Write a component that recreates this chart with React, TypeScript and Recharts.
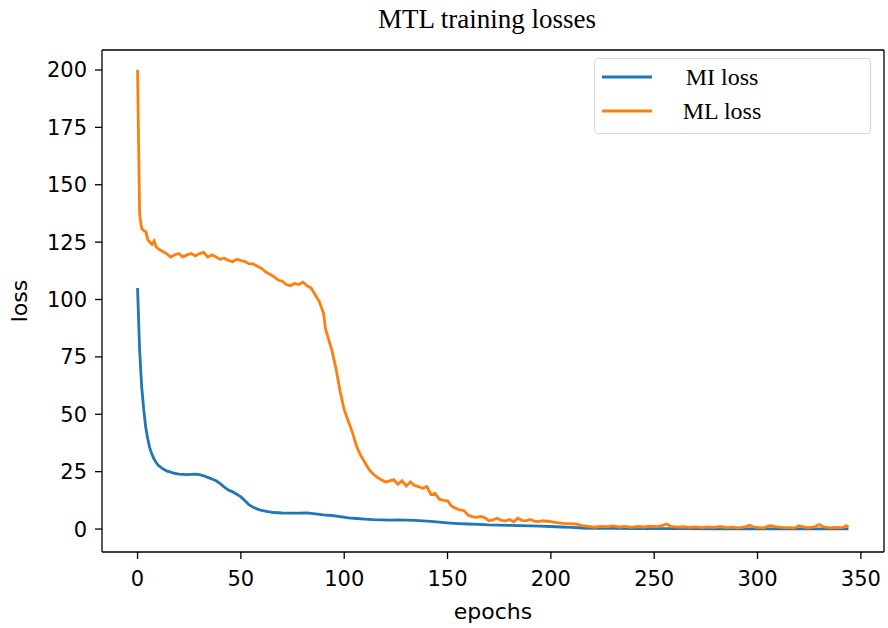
import React from "react";
import { LineChart, Line, XAxis, YAxis, Legend, Label, ReferenceLine } from "recharts";

const mlEpochs = [
  0, 1, 2, 3, 4, 5, 6, 7, 8, 9, 10, 12, 14, 16, 18, 20, 22, 24, 26, 28, 30, 32, 34, 36, 38, 40,
  42, 44, 46, 48, 50, 52, 54, 56, 58, 60, 62, 64, 66, 68, 70, 72, 74, 76, 78, 80, 82, 84, 86, 88,
  90, 91, 92, 94, 96, 98, 100, 102, 104, 106, 108, 110, 112, 114, 116, 118, 120, 122, 124, 126,
  128, 130, 132, 134, 136, 138, 140, 142, 144, 146, 148, 150, 152, 154, 156, 158, 160, 162, 164,
  166, 168, 170, 172, 174, 176, 178, 180, 182, 184, 186, 188, 190, 192, 194, 196, 198, 200, 203,
  206, 209, 212, 215, 218, 221, 224, 227, 230, 233, 236, 239, 242, 245, 248, 251, 254, 256, 258,
  261, 264, 267, 270, 273, 276, 279, 282, 285, 288, 291, 294, 296, 299, 303, 306, 309, 312, 315,
  318, 320, 324, 327, 330, 332, 335, 338, 341, 343, 344,
];
const mlLoss = [
  200, 137, 131, 130, 129.5, 126, 125, 124, 125.5, 123, 122, 121, 120, 118.5, 119.5, 120, 118.5,
  119.5, 120, 119, 120, 120.5, 118.5, 119.5, 118.5, 117.5, 118, 117, 116.5, 117.5, 117, 116.5,
  115.5, 115.5, 114.5, 113.5, 112, 111, 110, 108.5, 108, 106.5, 106, 107, 106.5, 107.5, 106, 105,
  102, 99, 94, 87, 84, 78, 70, 60, 52, 47, 42, 36, 32, 29, 26, 24, 22.5, 21.5, 20.5, 21, 21.5, 19.5,
  21, 18.8, 20.5, 19, 18.5, 17.7, 18.5, 15, 15.5, 13, 12.5, 12.3, 10, 9, 8.3, 8, 6, 5.4, 5.1, 5.5,
  5, 3.6, 4, 4.7, 3.8, 3.6, 4.2, 3.2, 4.7, 3.8, 3.6, 4.2, 3.4, 3.2, 3.6, 3.4, 3.2, 2.8, 2.5, 2.4,
  2.2, 1.5, 1.2, 0.8, 1.2, 1, 1.4, 0.9, 1.2, 0.7, 1.1, 0.9, 1.3, 1.0, 1.6, 2.2, 1.2, 0.8, 1.0, 0.7,
  0.9, 0.6, 0.9, 0.7, 1.1, 0.6, 0.8, 0.5, 0.9, 1.7, 0.7, 0.5, 1.5, 0.9, 0.7, 0.6, 0.5, 1.4, 0.6,
  0.8, 2.0, 0.9, 0.5, 0.7, 0.6, 1.5, 0.8,
];

const miEpochs = [
  0, 1, 2, 3, 4, 5, 6, 7, 8, 9, 10, 12, 14, 16, 18, 20, 22, 24, 26, 28, 30, 32, 34, 36, 38, 40, 42,
  44, 46, 48, 50, 52, 54, 56, 58, 60, 63, 66, 70, 74, 78, 82, 86, 90, 94, 98, 102, 106, 110, 114,
  118, 122, 126, 130, 134, 138, 142, 146, 150, 155, 160, 165, 170, 175, 180, 185, 190, 195, 200,
  205, 210, 215, 220, 230, 240, 260, 280, 300, 320, 344,
];
const miLoss = [
  105, 78, 62, 52, 44, 39, 35, 32.5, 30.5, 29, 27.8, 26.4, 25.3, 24.8, 24.2, 23.9, 23.8, 23.7, 23.8,
  23.9, 23.7, 23.2, 22.5, 21.8, 21, 19.8, 18.3, 17, 16.2, 15.2, 14, 12.3, 10.5, 9.5, 8.7, 8.1, 7.6,
  7.2, 7, 6.9, 6.9, 7, 6.6, 6.2, 5.9, 5.4, 4.9, 4.6, 4.3, 4.1, 4, 3.9, 4, 3.9, 3.8, 3.6, 3.3, 3,
  2.7, 2.4, 2.2, 2.0, 1.8, 1.7, 1.6, 1.5, 1.4, 1.3, 1.1, 0.9, 0.7, 0.45, 0.3, 0.25, 0.2, 0.15,
  0.12, 0.1, 0.1, 0.08,
];

const xTicks = [0, 50, 100, 150, 200, 250, 300, 350];
const yTicks = [0, 25, 50, 75, 100, 125, 150, 175, 200];
const xDomain = [-17.2, 361.2];
const yDomain = [-10, 208.7];

const mlData = mlEpochs.map((epoch, i) => ({ epoch, loss: mlLoss[i] }));
const miData = miEpochs.map((epoch, i) => ({ epoch, loss: miLoss[i] }));

const BLUE = "#1f77b4";
const ORANGE = "#ff7f0e";
const SANS = "'DejaVu Sans', sans-serif";
const SERIF = "'Liberation Serif', 'Times New Roman', serif";

const tickStyle = { fontSize: 21, fill: "#000", fontFamily: SANS };
const labelStyle = { fontSize: 22, fill: "#000", fontFamily: SANS };
const axisLine = { stroke: "#000", strokeWidth: 1.3 };

const legendItems = [
  { name: "MI loss", color: BLUE },
  { name: "ML loss", color: ORANGE },
];

function LegendBox() {
  return (
    <div
      style={{
        position: "relative",
        width: 277,
        height: 76,
        border: "1.5px solid #d6d6d6",
        borderRadius: 4,
        background: "#fff",
        boxSizing: "border-box",
      }}
    >
      {legendItems.map((it, i) => (
        <div key={it.name} style={{ position: "absolute", left: 0, top: 3 + i * 34, width: 277, height: 30 }}>
          <svg width={60} height={30} style={{ position: "absolute", left: 6, top: 0 }}>
            <line x1={1} x2={51} y1={15} y2={15} stroke={it.color} strokeWidth={3} />
          </svg>
          <span
            style={{
              position: "absolute",
              left: 127,
              top: 0,
              transform: "translateX(-50%)",
              fontFamily: SERIF,
              fontSize: 24,
              lineHeight: "30px",
              color: "#000",
              whiteSpace: "nowrap",
            }}
          >
            {it.name}
          </span>
        </div>
      ))}
    </div>
  );
}

export default function App() {
  return (
    <div style={{ position: "absolute", left: 0, top: 0, width: 888, height: 628, background: "#fff" }}>
      <div
        style={{
          position: "absolute",
          left: 96,
          width: 782,
          top: 4,
          textAlign: "center",
          fontFamily: SERIF,
          fontSize: 27,
          color: "#000",
        }}
      >
        MTL training losses
      </div>
      <LineChart width={888} height={628} margin={{ top: 50, right: 4, bottom: 0, left: 0 }}>
        <XAxis
          dataKey="epoch"
          type="number"
          domain={xDomain}
          allowDataOverflow
          ticks={xTicks}
          tick={tickStyle}
          tickSize={7}
          tickMargin={12}
          tickLine={{ stroke: "#000", strokeWidth: 1.3 }}
          axisLine={axisLine}
          height={76}
        >
          <Label value="epochs" position="insideBottom" offset={9} style={labelStyle} />
        </XAxis>
        <YAxis
          type="number"
          domain={yDomain}
          allowDataOverflow
          ticks={yTicks}
          tick={tickStyle}
          tickSize={7}
          tickMargin={8}
          tickLine={{ stroke: "#000", strokeWidth: 1.3 }}
          axisLine={axisLine}
          width={102}
        >
          <Label
            content={({ viewBox }: any) => {
              const cy = viewBox.y + viewBox.height / 2;
              return (
                <text
                  x={27}
                  y={cy}
                  transform={`rotate(-90, 27, ${cy})`}
                  textAnchor="middle"
                  style={labelStyle}
                >
                  loss
                </text>
              );
            }}
          />
        </YAxis>
        {/* top and right spines of the axes box */}
        <ReferenceLine y={yDomain[1]} stroke="#000" strokeWidth={1.3} ifOverflow="visible" />
        <ReferenceLine x={xDomain[1]} stroke="#000" strokeWidth={1.3} ifOverflow="visible" />
        <Legend
          layout="vertical"
          align="center"
          verticalAlign="middle"
          content={() => <LegendBox />}
          wrapperStyle={{ position: "absolute", left: 594, top: 58, width: 277, height: 76 }}
        />
        <Line
          data={miData}
          dataKey="loss"
          name="MI loss"
          type="linear"
          stroke={BLUE}
          strokeWidth={2.8}
          dot={false}
          isAnimationActive={false}
        />
        <Line
          data={mlData}
          dataKey="loss"
          name="ML loss"
          type="linear"
          stroke={ORANGE}
          strokeWidth={2.8}
          dot={false}
          isAnimationActive={false}
        />
      </LineChart>
    </div>
  );
}
